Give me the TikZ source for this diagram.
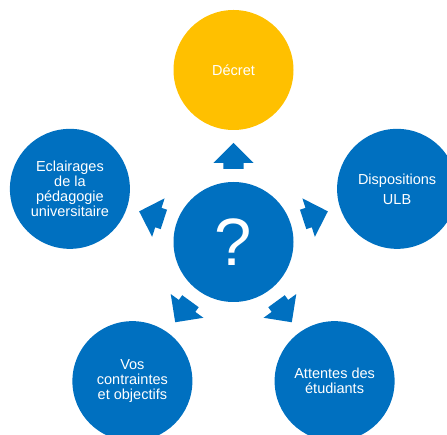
\documentclass[tikz,border=0pt]{standalone}
\usepackage{fontspec}
\setmainfont{Liberation Sans}
\usetikzlibrary{shapes.arrows,calc}
\definecolor{bubblecolor}{RGB}{0,112,192}
\definecolor{decretcolor}{RGB}{255,192,0}

\begin{document}
\begin{tikzpicture}[x=1bp, y=1bp,
                    bubble/.style={circle, fill=bubblecolor, text=white, minimum size=120bp,
                    inner sep=0pt, align=center, font=\fontsize{14.5bp}{15bp}\selectfont},
                    flow/.style={single arrow, fill=bubblecolor, minimum height=26bp,
                    minimum width=0pt, single arrow head extend=10bp,
                    single arrow head indent=0pt, inner xsep=0pt, inner ysep=10bp, anchor=tail}]
    \useasboundingbox (-233.5,-193) rectangle (213.5,242);
    \node [bubble, font=\fontsize{67bp}{67bp}\selectfont] (question) at (0,0) {?};
    \node [bubble, fill=decretcolor] (decret) at (90:172) {Décret};
    \node [bubble] (ulb) at (18:172) {Dispositions\\[5bp]ULB};
    \node [bubble] (etudiants) at (-54:172) {Attentes des\\étudiants};
    \node [bubble] (objectifs) at (234:172) {Vos\\contraintes\\et objectifs};
    \node [bubble] (eclairages) at (162:172) {Eclairages\\de la\\pédagogie\\universitaire};

    \node [flow, rotate=90] (todecret) at ($(question)!0.5!(decret)!13bp!(question)$) {};
    \node [flow, rotate=18] (toulb) at ($(question)!0.5!(ulb)!13bp!(question)$) {};
    \node [flow, rotate=-54] (toetudiants) at ($(question)!0.5!(etudiants)!13bp!(question)$) {};
    \node [flow, rotate=234] (toobjectifs) at ($(question)!0.5!(objectifs)!13bp!(question)$) {};
    \node [flow, rotate=162] (toeclairages) at ($(question)!0.5!(eclairages)!13bp!(question)$) {};
\end{tikzpicture}
\end{document}
